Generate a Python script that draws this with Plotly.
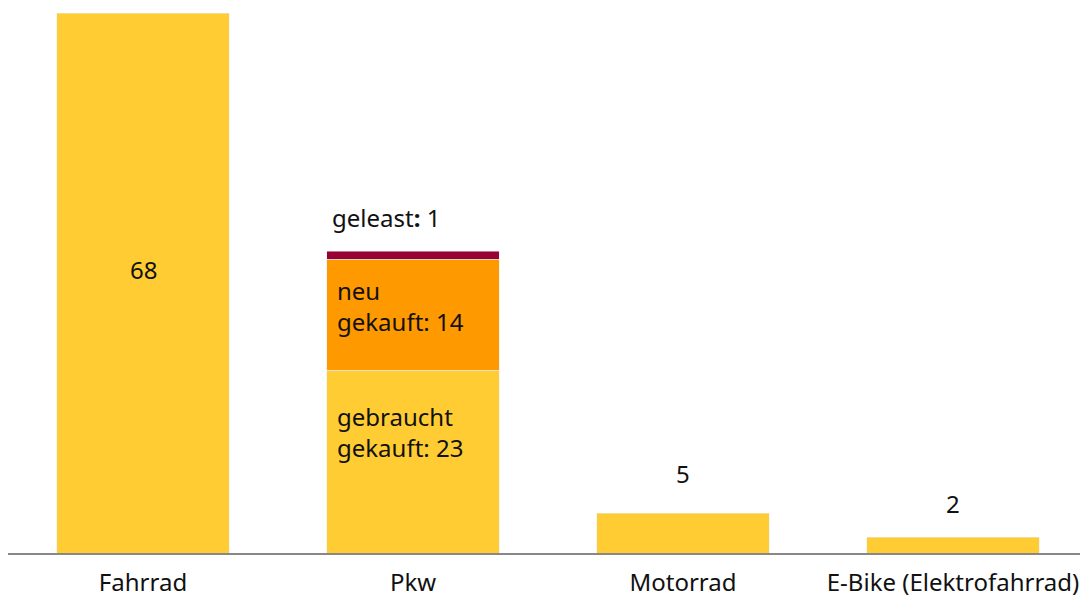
import plotly.graph_objects as go

categories = ["Fahrrad", "Pkw", "Motorrad", "E-Bike (Elektrofahrrad)"]
single_values = [68, None, 5, 2]
pkw_gebraucht = 23
pkw_neu = 14
pkw_geleast = 1

YELLOW = "#FFCC33"
ORANGE = "#FF9900"
DARKRED = "#990033"
FONT = "Noto Sans"
FS = 24

fig = go.Figure()
fig.add_trace(go.Bar(x=categories, y=single_values, marker_color=YELLOW, name="gesamt"))
fig.add_trace(go.Bar(x=categories, y=[None, pkw_gebraucht, None, None], marker_color=YELLOW, name="gebraucht gekauft"))
fig.add_trace(go.Bar(x=categories, y=[None, pkw_neu, None, None], marker_color=ORANGE, name="neu gekauft"))
fig.add_trace(go.Bar(x=categories, y=[None, pkw_geleast, None, None], marker_color=DARKRED, name="geleast"))

bar_frac = 0.64
left_edge = 1 - bar_frac / 2

ann = []
ann.append(dict(x=0, y=single_values[0] / 2, text=str(single_values[0]), showarrow=False,
                yshift=14, xanchor="center", yanchor="middle"))
ann.append(dict(x=2, y=single_values[2], text=str(single_values[2]), showarrow=False,
                yshift=40, xanchor="center", yanchor="middle"))
ann.append(dict(x=3, y=single_values[3], text=str(single_values[3]), showarrow=False,
                yshift=34, xanchor="center", yanchor="middle"))
ann.append(dict(x=left_edge, y=pkw_gebraucht, text=f"gebraucht<br>gekauft: {pkw_gebraucht}", showarrow=False,
                xshift=8, yshift=-62, xanchor="left", yanchor="middle", align="left"))
ann.append(dict(x=left_edge, y=pkw_gebraucht + pkw_neu, text=f"neu<br>gekauft: {pkw_neu}", showarrow=False,
                xshift=8, yshift=-47, xanchor="left", yanchor="middle", align="left"))
ann.append(dict(x=left_edge, y=pkw_gebraucht + pkw_neu + pkw_geleast, text=f"geleast<b>:</b> {pkw_geleast}", showarrow=False,
                xshift=3, yshift=34, xanchor="left", yanchor="middle", align="left"))
for a in ann:
    a["font"] = dict(family=FONT, size=FS, color="#111111")

fig.update_layout(
    barmode="stack",
    bargap=1 - bar_frac,
    width=1080, height=592,
    margin=dict(l=0, r=0, t=5, b=47, autoexpand=False),
    plot_bgcolor="white", paper_bgcolor="white",
    showlegend=False,
    annotations=ann,
    font=dict(family=FONT, size=FS, color="#111111"),
    xaxis=dict(range=[-0.5, 3.5], showline=True, linecolor="#888888", linewidth=2,
               ticks="", ticklabelstandoff=7,
               tickfont=dict(family=FONT, size=FS, color="#111111"), showgrid=False),
    yaxis=dict(range=[0, 68], visible=False, showgrid=False, zeroline=False),
)

fig.write_html("out.html")
